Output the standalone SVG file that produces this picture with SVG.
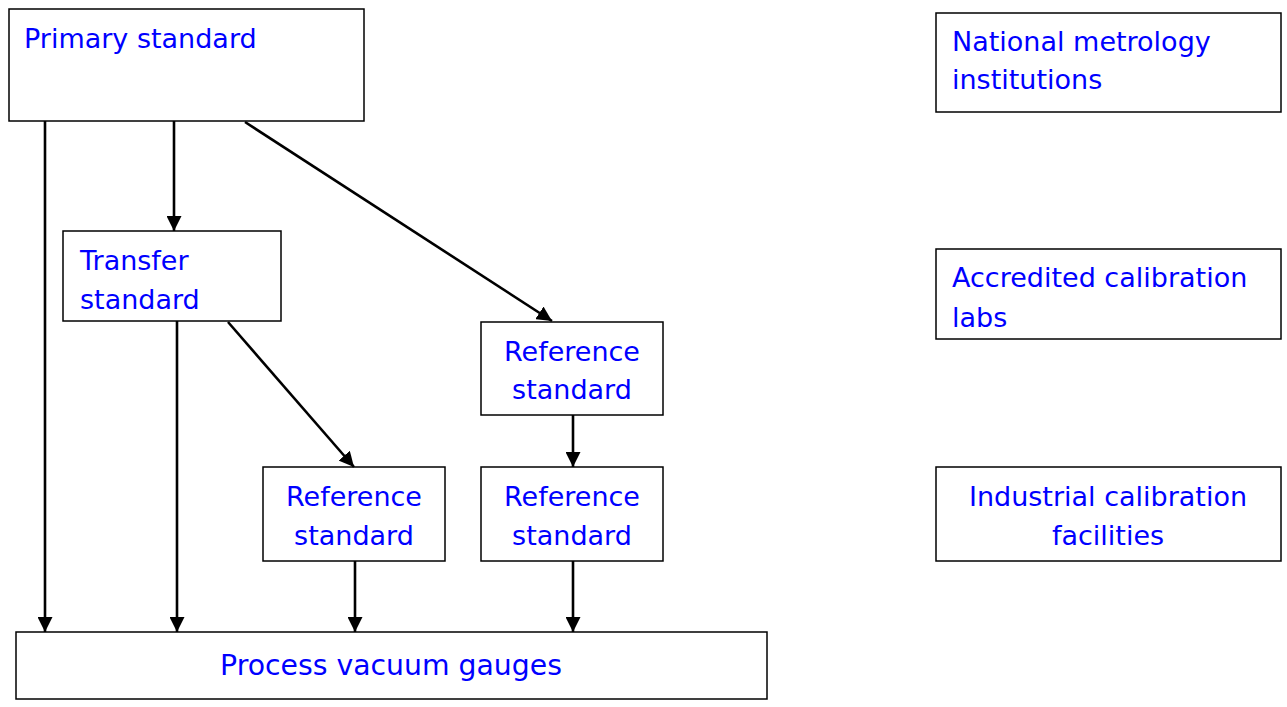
<svg xmlns="http://www.w3.org/2000/svg" width="1287" height="707" viewBox="0 0 1287 707">
<style>
.box{fill:#fff;stroke:#000;stroke-width:1.5}
.t{font-family:"Comic Sans MS","DejaVu Sans",sans-serif;font-size:27px;fill:#0000ff}
.c{text-anchor:middle}
.ln{stroke:#000;stroke-width:2.6;fill:none;marker-end:url(#ah)}
</style>
<defs>
<marker id="ah" viewBox="0 0 12 12" refX="12" refY="6" markerWidth="15" markerHeight="15" markerUnits="userSpaceOnUse" orient="auto">
<path d="M0,0 L12,6 L0,12 z" fill="#000"/>
</marker>
</defs>
<rect width="1287" height="707" fill="#fff"/>
<g id="primary"><rect class="box" x="9" y="9" width="355" height="112"/><text class="t" x="24" y="48">Primary standard</text></g>
<g id="national"><rect class="box" x="936" y="13" width="345" height="99"/><text class="t" x="952" y="51">National metrology</text><text class="t" x="952" y="89">institutions</text></g>
<g id="transfer"><rect class="box" x="63" y="231" width="218" height="90"/><text class="t" x="80" y="270">Transfer</text><text class="t" x="80" y="309">standard</text></g>
<g id="accredited"><rect class="box" x="936" y="249" width="345" height="90"/><text class="t" x="952" y="287">Accredited calibration</text><text class="t" x="952" y="327">labs</text></g>
<g id="ref1"><rect class="box" x="481" y="322" width="182" height="93"/><text class="t c" x="572" y="361">Reference</text><text class="t c" x="572" y="399">standard</text></g>
<g id="ref2"><rect class="box" x="263" y="467" width="182" height="94"/><text class="t c" x="354" y="506">Reference</text><text class="t c" x="354" y="545">standard</text></g>
<g id="ref3"><rect class="box" x="481" y="467" width="182" height="94"/><text class="t c" x="572" y="506">Reference</text><text class="t c" x="572" y="545">standard</text></g>
<g id="industrial"><rect class="box" x="936" y="467" width="345" height="94"/><text class="t c" x="1108" y="506">Industrial calibration</text><text class="t c" x="1108" y="545">facilities</text></g>
<g id="process"><rect class="box" x="16" y="632" width="751" height="67"/><text class="t c" x="391" y="675" style="font-size:28.3px">Process vacuum gauges</text></g>
<g id="connectors">
<line class="ln" x1="45" y1="121" x2="45" y2="632"/>
<line class="ln" x1="174" y1="121" x2="174" y2="231"/>
<line class="ln" x1="245" y1="122" x2="552" y2="321"/>
<line class="ln" x1="177" y1="321" x2="177" y2="632"/>
<line class="ln" x1="228" y1="322" x2="354" y2="467"/>
<line class="ln" x1="573" y1="415" x2="573" y2="467"/>
<line class="ln" x1="355" y1="561" x2="355" y2="632"/>
<line class="ln" x1="573" y1="561" x2="573" y2="632"/>
</g>
</svg>
